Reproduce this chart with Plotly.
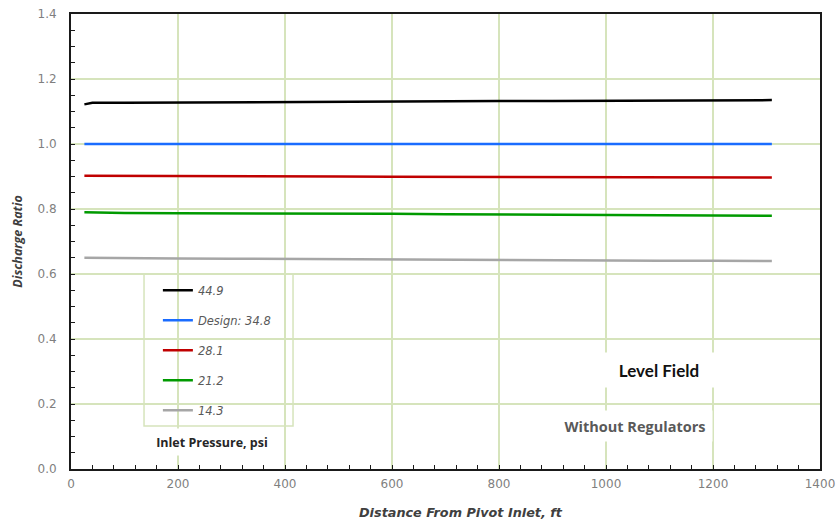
import plotly.graph_objects as go

# ---- data ----
distance_ft = [25, 40, 100, 200, 300, 400, 500, 600, 700, 800, 900, 1000, 1100, 1200, 1310]
series_names = ["44.9", "Design: 34.8", "28.1", "21.2", "14.3"]
ratio_449 = [1.122, 1.127, 1.127, 1.128, 1.128, 1.129, 1.130, 1.131, 1.131, 1.132, 1.132, 1.133, 1.134, 1.134, 1.135]
ratio_348 = [1.000, 1.000, 1.000, 1.000, 1.000, 1.000, 1.000, 1.000, 1.000, 1.000, 1.000, 1.000, 1.000, 1.000, 1.000]
ratio_281 = [0.902, 0.902, 0.902, 0.901, 0.901, 0.900, 0.900, 0.899, 0.899, 0.899, 0.898, 0.898, 0.897, 0.897, 0.897]
ratio_212 = [0.790, 0.790, 0.788, 0.787, 0.787, 0.786, 0.785, 0.785, 0.784, 0.783, 0.783, 0.781, 0.780, 0.780, 0.779]
ratio_143 = [0.650, 0.650, 0.649, 0.648, 0.647, 0.646, 0.645, 0.645, 0.644, 0.643, 0.642, 0.642, 0.641, 0.641, 0.640]
x_ticks = [0, 200, 400, 600, 800, 1000, 1200, 1400]
y_ticks = [0.0, 0.2, 0.4, 0.6, 0.8, 1.0, 1.2, 1.4]

colors = ["#000000", "#1a6cff", "#c00000", "#009a00", "#a6a6a6"]
all_series = [ratio_449, ratio_348, ratio_281, ratio_212, ratio_143]

GRID = "#d6e4bc"

fig = go.Figure()
for i, (name, ys) in enumerate(zip(series_names, all_series)):
    fig.add_trace(go.Scatter(
        x=distance_ft, y=ys, mode="lines", name=name,
        legendgroup=f"g{i}",
        line=dict(color=colors[i], width=2.5),
    ))

fig.update_layout(
    width=836, height=525,
    margin=dict(l=71, r=16, t=14, b=56, autoexpand=False),
    paper_bgcolor="white", plot_bgcolor="white",
    font=dict(family="DejaVu Sans", color="#7f7f7f", size=12),
    showlegend=True,
    legend=dict(
        x=0.116, y=0.425, xanchor="left", yanchor="top",
        bgcolor="rgba(0,0,0,0)", borderwidth=0,
        traceorder="grouped", tracegroupgap=11,
        font=dict(family="DejaVu Sans", size=11.5, color="#595959", style="italic"),
    ),
    xaxis=dict(
        range=[0, 1400], tickvals=x_ticks, automargin=False, ticklabeloverflow="allow",
        showgrid=True, gridcolor=GRID, gridwidth=1.5,
        showline=True, linecolor="#1a1a1a", linewidth=2, mirror=True,
        ticks="inside", ticklen=4, tickcolor="#1a1a1a", ticklabelstandoff=3,
        minor=dict(dtick=40, ticks="inside", ticklen=4, tickcolor="#1a1a1a", showgrid=False),
        zeroline=False,
        tickfont=dict(size=12, color="#7f7f7f"),
    ),
    yaxis=dict(
        range=[0, 1.4], tickvals=y_ticks, ticktext=[f"{v:.1f}" for v in y_ticks],
        automargin=False, ticklabeloverflow="allow",
        showgrid=True, gridcolor=GRID, gridwidth=1.5,
        showline=True, linecolor="#1a1a1a", linewidth=2, mirror=True,
        ticks="inside", ticklen=4, tickcolor="#1a1a1a", ticklabelstandoff=10,
        minor=dict(dtick=0.05, ticks="inside", ticklen=4, tickcolor="#1a1a1a", showgrid=False),
        zeroline=False,
        tickfont=dict(size=12, color="#7f7f7f"),
        title=dict(text="<b><i>Discharge Ratio</i></b>",
                   font=dict(family="Open Sans", size=12.5, color="#404040"), standoff=12),
    ),
)

# x-axis title (placed slightly right of centre, as in the original)
fig.add_annotation(text="<b><i>Distance From Pivot Inlet, ft</i></b>", xref="paper", yref="paper",
                   x=0.5207, y=-0.0967, xanchor="center", yanchor="middle", showarrow=False,
                   font=dict(family="DejaVu Sans", size=12.8, color="#404040"))

# legend frame (drawn above grid, below traces)
fig.add_shape(type="rect", xref="x", yref="y",
              x0=136.5, x1=415, y0=0.132, y1=0.600,
              fillcolor="white", line=dict(color=GRID, width=1.5), layer="below")

fig.add_annotation(text="<b>Inlet Pressure, psi</b>", xref="paper", yref="paper",
                   x=0.188, y=0.0593, xanchor="center", yanchor="middle",
                   showarrow=False, bgcolor="white", width=124, height=24,
                   font=dict(family="Open Sans", size=12.5, color="#262626"))
fig.add_annotation(text="<b>Level Field</b>", xref="paper", yref="paper",
                   x=0.785, y=0.2176, xanchor="center", yanchor="middle",
                   showarrow=False, bgcolor="white", width=112, height=32,
                   font=dict(family="Lato", size=17, color="#111111"))
fig.add_annotation(text="<b>Without Regulators</b>", xref="paper", yref="paper",
                   x=0.753, y=0.0945, xanchor="center", yanchor="middle",
                   showarrow=False, bgcolor="white", width=152, height=28,
                   font=dict(family="Open Sans", size=14.5, color="#595959"))

fig.write_html("out.html", config={"displayModeBar": False},
               post_script="document.body.style.margin='0';")
